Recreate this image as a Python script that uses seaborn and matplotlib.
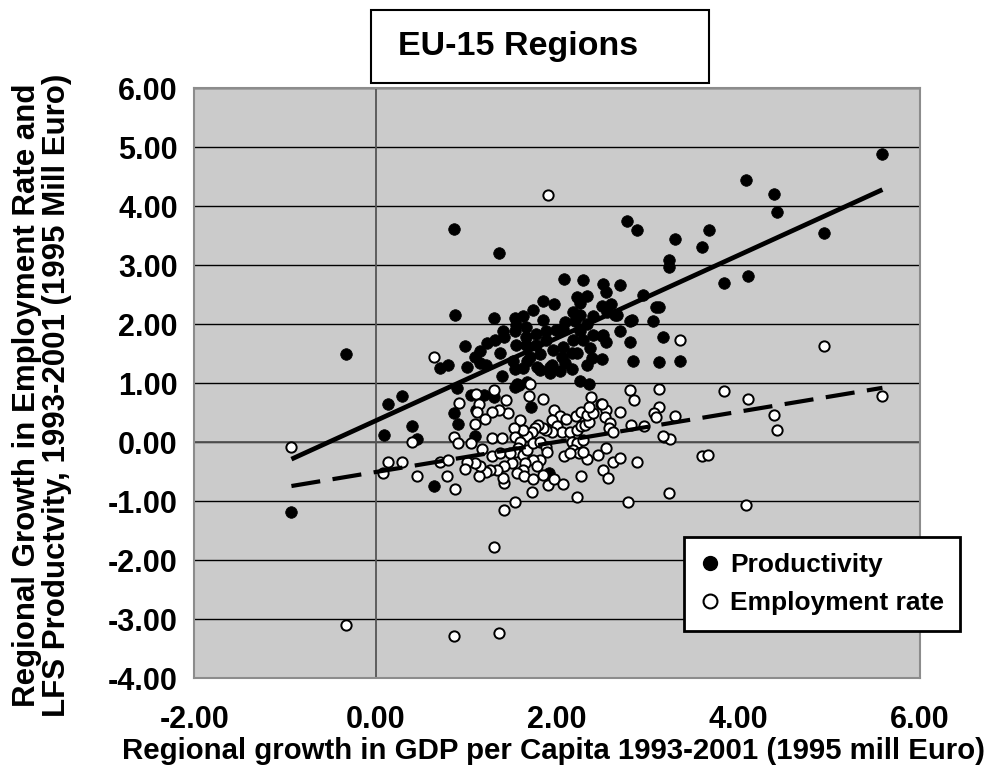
import numpy as np
import pandas as pd
import seaborn as sns
import matplotlib.pyplot as plt
from matplotlib.lines import Line2D
from matplotlib.patches import Rectangle

# Regional growth in GDP per capita (x) vs productivity growth (y)
prod_x = [-0.93, -0.33, 0.09, 0.14, 0.29, 0.40, 0.45, 0.64, 0.86, 0.88, 1.36,
          5.59, 4.08, 4.39, 4.43, 4.95, 2.77, 2.88, 3.30, 3.68, 3.60, 3.24, 3.23, 3.84, 4.11,
          2.70, 2.51, 2.54, 2.95, 2.60, 2.55, 2.64, 3.09, 3.13, 2.81, 3.06, 2.51, 2.54, 2.70,
          2.80, 3.17, 2.50, 2.84, 3.13, 3.36,
          2.08, 2.29, 1.84, 1.97, 2.22, 2.33, 2.25, 2.50, 2.18, 2.25, 1.74, 1.31, 1.54, 1.63,
          1.85, 2.40, 2.66, 2.83, 2.50, 2.39, 2.33, 2.17, 2.17, 2.03, 2.09, 1.92, 1.95, 1.78,
          1.63, 1.54, 1.39, 1.15, 1.22, 1.01, 0.71, 0.80, 0.99, 1.09, 1.15, 1.23, 1.37, 1.32,
          1.41, 1.40, 1.54, 1.66, 1.77, 1.88, 1.99, 2.07, 1.88, 1.77, 1.66, 1.55, 1.70, 1.81,
          1.96, 2.07, 2.18, 2.25, 2.33, 2.20, 2.09, 1.66, 1.55, 2.36, 2.29, 2.40, 2.22, 2.05,
          1.92, 1.81, 1.67, 1.51, 2.25, 2.35, 1.58, 1.67, 1.54, 0.90, 1.05, 1.19, 1.31, 1.71,
          0.86, 0.91, 1.10, 1.11, 1.91, 1.56]
prod_y = [-1.19, 1.50, 0.12, 0.65, 0.78, 0.28, 0.06, -0.74, 3.62, 2.15, 3.21,
          4.88, 4.45, 4.21, 3.91, 3.54, 3.75, 3.59, 3.44, 3.59, 3.31, 3.09, 2.97, 2.70, 2.81,
          2.67, 2.69, 2.55, 2.49, 2.35, 2.21, 2.15, 2.29, 2.29, 2.06, 2.06, 1.81, 1.70, 1.89,
          1.70, 1.79, 1.41, 1.37, 1.36, 1.37,
          2.77, 2.75, 2.40, 2.34, 2.47, 2.48, 2.36, 2.31, 2.21, 2.15, 2.25, 2.11, 2.10, 2.14,
          2.08, 2.14, 2.15, 2.07, 1.80, 1.42, 1.31, 1.51, 1.24, 1.20, 1.35, 1.17, 1.31, 1.27,
          1.26, 1.24, 1.13, 1.34, 1.31, 1.27, 1.26, 1.31, 1.63, 1.44, 1.55, 1.69, 1.51, 1.73,
          1.79, 1.89, 1.89, 1.79, 1.84, 1.89, 1.90, 1.92, 1.73, 1.65, 1.65, 1.65, 1.45, 1.50,
          1.56, 1.62, 1.73, 1.89, 2.00, 2.06, 2.04, 1.96, 1.99, 1.59, 1.73, 1.81, 1.51, 1.45,
          1.28, 1.23, 1.37, 1.38, 1.03, 0.99, 0.97, 1.02, 0.94, 0.92, 0.80, 0.80, 0.77, 0.60,
          0.50, 0.31, 0.10, 0.55, -0.53, 0.98]

# Regional growth in GDP per capita (x) vs employment rate growth (y)
emp_x = [1.11, 1.31, 0.92, 1.14, 1.44, 1.46, 1.36, 1.28, 1.12, 1.21, 1.10, 1.70, 1.69, 1.85,
         1.97, 2.03, 2.10, 1.95, 2.00, 2.05, 1.94, 1.88, 1.85, 1.79, 1.76, 1.72, 1.67, 1.63,
         1.59, 1.53, 1.54, 1.59, 1.57, 1.54, 1.63, 1.67, 1.74, 1.81, 1.88, 1.89, 1.81, 1.74,
         1.78, 1.65, 1.63, 1.50, 1.56, 1.64, 1.74, 1.84, 1.90, 1.97, 2.07, 1.72, 1.54, 1.41,
         1.41, 1.40, 1.31, 1.41, 1.34, 1.26, 1.22, 1.14, 1.15, 1.10, 1.01, 0.99, 0.88, 0.79,
         0.45, 0.08, 0.14, 0.29, 0.71, 0.80, 0.40, 0.86, 0.91, 1.05, 1.17, 1.28, 1.39, 1.28,
         1.37, 1.48, 2.14, 2.22, 2.27, 2.31, 2.35, 2.21, 2.27, 2.33, 2.40, 2.37, 2.35, 2.49,
         2.54, 2.53, 2.59, 2.57, 2.62, 2.70, 2.81, 2.85, 3.13, 3.13, 3.07, 3.09, 3.30, 2.96,
         2.82, 2.16, 2.22, 2.29, 2.18, 2.24, 2.33, 2.29, 2.08, 2.14, 2.45, 2.54, 2.62, 2.70,
         2.88, 2.51, 2.56, 2.27, 2.22, 2.78, 3.23, 3.18, 3.25, 3.60, 3.67,
         -0.93, -0.33, 0.86, 1.36, 1.90, 0.64, 3.36, 4.95, 5.59, 3.84, 4.11, 4.39, 4.43, 2.50,
         3.17, 4.08]
emp_y = [0.82, 0.89, 0.66, 0.64, 0.71, 0.49, 0.54, 0.52, 0.52, 0.40, 0.31, 0.98, 0.79, 0.73,
         0.55, 0.45, 0.39, 0.38, 0.27, 0.18, 0.18, 0.21, 0.24, 0.29, 0.24, 0.18, 0.10, 0.21,
         0.38, 0.24, 0.08, 0.01, -0.10, -0.16, -0.22, -0.13, -0.02, 0.01, -0.08, -0.16, -0.30, -0.30,
         -0.41, -0.36, -0.47, -0.36, -0.53, -0.57, -0.63, -0.55, -0.72, -0.63, -0.71, -0.85, -1.01, -1.15,
         -0.70, -0.61, -1.77, -0.41, -0.47, -0.47, -0.51, -0.57, -0.40, -0.36, -0.33, -0.46, -0.79, -0.58,
         -0.57, -0.53, -0.33, -0.33, -0.33, -0.30, 0.00, 0.08, -0.01, -0.01, -0.12, 0.07, 0.07, -0.24,
         -0.19, -0.19, 0.18, 0.21, 0.27, 0.29, 0.35, 0.45, 0.52, 0.46, 0.49, 0.76, 0.60, 0.65,
         0.54, 0.43, 0.32, 0.24, 0.18, 0.52, 0.88, 0.71, 0.90, 0.60, 0.49, 0.42, 0.45, 0.27,
         0.29, 0.01, -0.01, 0.04, -0.13, -0.19, -0.29, -0.16, -0.24, -0.19, -0.22, -0.10, -0.33, -0.27,
         -0.33, -0.47, -0.61, -0.58, -0.93, -1.01, -0.86, 0.08, 0.05, -0.23, -0.22,
         -0.08, -3.10, -3.29, -3.24, 4.20, 1.44, 1.73, 1.63, 0.78, 0.86, 0.74, 0.46, 0.20, 0.65,
         0.10, -1.07]

x_ticks = [-2, 0, 2, 4, 6]
y_ticks = [-4, -3, -2, -1, 0, 1, 2, 3, 4, 5, 6]

sns.set_style("white")
plt.rcParams['font.family'] = ['Liberation Sans', 'DejaVu Sans']
plt.rcParams['font.weight'] = 'bold'
plt.rcParams['text.color'] = 'black'
plt.rcParams['xtick.color'] = 'black'
plt.rcParams['ytick.color'] = 'black'

prod = pd.DataFrame({'gdp': prod_x, 'val': prod_y})
emp = pd.DataFrame({'gdp': emp_x, 'val': emp_y})

fig = plt.figure(figsize=(9.92, 7.75), dpi=100)
ax = fig.add_axes([0.196, 0.125, 0.731, 0.761])
ax.set_facecolor('#cbcbcb')

sns.scatterplot(data=prod, x='gdp', y='val', color='black', edgecolor='black',
                s=70, linewidth=0.5, ax=ax, zorder=3)
sns.scatterplot(data=emp, x='gdp', y='val', color='white', edgecolor='black',
                s=55, linewidth=1.4, ax=ax, zorder=3)
# trend lines
sns.regplot(data=prod, x='gdp', y='val', scatter=False, ci=None, ax=ax,
            line_kws=dict(color='black', lw=3.4, zorder=4, solid_capstyle='butt'))
sns.regplot(data=emp, x='gdp', y='val', scatter=False, ci=None, ax=ax,
            line_kws=dict(color='black', lw=3.0, ls=(0, (7, 3)), zorder=4))

ax.set_xlim(-2, 6)
ax.set_ylim(-4, 6)
ax.set_xticks(x_ticks)
ax.set_yticks(y_ticks)
ax.set_xticklabels([f'{v:.2f}' for v in x_ticks], fontsize=22, fontweight='bold', color='black')
ax.set_yticklabels([f'{v:.2f}' for v in y_ticks], fontsize=22, fontweight='bold', color='black')
ax.tick_params(axis='x', length=0, pad=19)
ax.tick_params(axis='y', length=0, pad=12)
ax.set_xlabel('')
ax.set_ylabel('')
ax.yaxis.grid(True, color='black', lw=1.0)
ax.xaxis.grid(False)
ax.set_axisbelow(True)
ax.axhline(0, color='#555555', lw=1.3, zorder=1)
ax.axvline(0, color='#555555', lw=1.3, zorder=1)
for s in ax.spines.values():
    s.set_color('#8c8c8c')
    s.set_linewidth(1.5)

handles = [Line2D([], [], marker='o', ls='none', mfc='black', mec='black', ms=10, label='Productivity'),
           Line2D([], [], marker='o', ls='none', mfc='white', mec='black', mew=1.5, ms=10,
                  label='Employment rate')]
leg = ax.legend(handles=handles, loc='upper left', bbox_to_anchor=(684 / 992, 1 - 537 / 775),
                bbox_transform=fig.transFigure, frameon=True, fancybox=False, edgecolor='black',
                prop={'weight': 'bold', 'size': 19}, handlelength=0.8, handletextpad=0.35,
                labelspacing=0.55, borderpad=0.6, borderaxespad=0)
leg.get_frame().set_linewidth(2)
leg.get_frame().set_facecolor('white')
leg.get_frame().set_alpha(1)
leg.set_zorder(10)
for t in leg.get_texts():
    t.set_color('black')

# title box
fig.add_artist(Rectangle((371 / 992, 1 - 83 / 775), 338 / 992, 73 / 775, transform=fig.transFigure,
                         fc='white', ec='black', lw=1.5))
fig.text(398 / 992, 1 - 46 / 775, 'EU-15 Regions', fontsize=24.5, fontweight='bold', va='center')

fig.text(42 / 992, 0.49, 'Regional Growth in Employment Rate and\nLFS Productvity, 1993-2001 (1995 Mill Euro)',
         rotation=90, ha='center', va='center', fontsize=22.5, fontweight='bold',
         linespacing=1.0, multialignment='center')
fig.text(553 / 992, 1 - 751 / 775, 'Regional growth in GDP per Capita 1993-2001 (1995 mill Euro)',
         ha='center', va='center', fontsize=21.2, fontweight='bold')

fig.savefig('out.png', dpi=100)
